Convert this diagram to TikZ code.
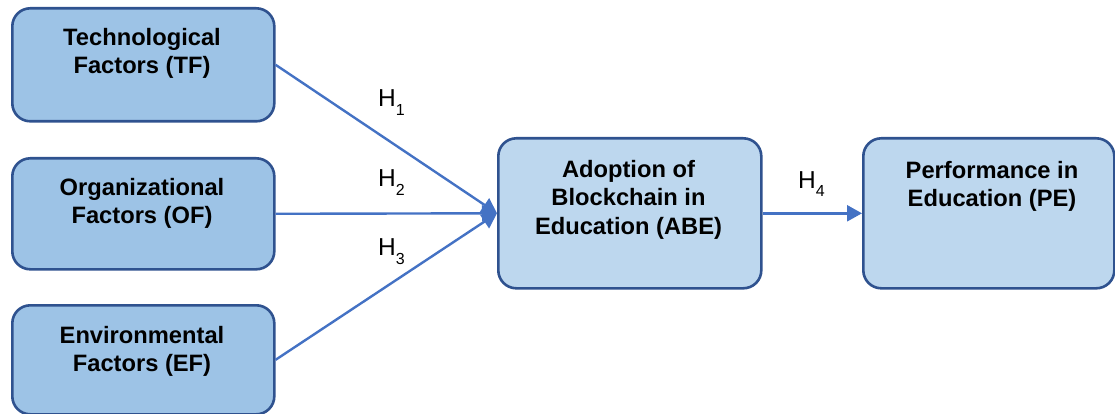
\documentclass[tikz,border=0pt]{standalone}
\usepackage{fontspec}
\setmainfont{Liberation Sans}
\usetikzlibrary{arrows.meta}
\definecolor{boxA}{HTML}{9DC3E6}
\definecolor{boxB}{HTML}{BDD7EE}
\definecolor{edgecol}{HTML}{2F528F}
\definecolor{arrcol}{HTML}{4472C4}
\newcommand{\hsub}[1]{\raisebox{-9pt}{\fontsize{16}{16}\selectfont #1}}
\begin{document}
\begin{tikzpicture}[x=1pt,y=-1pt,
  box/.style={draw=edgecol, line width=2.6pt, rounded corners=18pt, inner sep=0pt, anchor=north west},
  leftbox/.style={box, fill=boxA, minimum width=262pt},
  rightbox/.style={box, fill=boxB, minimum height=150pt},
  boxtext/.style={font=\fontsize{23.7}{28.5}\selectfont\bfseries, align=center, inner sep=0pt, anchor=north},
  hlab/.style={font=\fontsize{24.5}{24.5}\selectfont, inner sep=0pt, anchor=base west},
  link/.style={draw=arrcol, line width=2.4pt, -{Triangle[length=15pt,width=16pt]}}
]
\useasboundingbox (0,0) rectangle (1115,414);

\node[leftbox, minimum height=113pt] (TF) at (11,7) {};
\node[leftbox, minimum height=111pt] (OF) at (11,157) {};
\node[leftbox, minimum height=109pt] (EF) at (11,304) {};
\node[rightbox, minimum width=263pt] (ABE) at (497,137) {};
\node[rightbox, minimum width=251pt] (PE) at (862,137) {};

\node[boxtext] (tTF) at (142,28) {Technological\\Factors (TF)};
\node[boxtext] (tOF) at (142,178) {Organizational\\Factors (OF)};
\node[boxtext] (tEF) at (142,326) {Environmental\\Factors (EF)};
\node[boxtext] (tABE) at (628.5,160) {Adoption of\\Blockchain in\\Education (ABE)};
\node[boxtext] (tPE) at (992,161) {Performance in\\Education (PE)};

\draw[link] (TF.east) -- (ABE.west);
\draw[link] (OF.east) -- (ABE.west);
\draw[link] (EF.east) -- (ABE.west);
\draw[link] (ABE.east) -- (PE.west);

\node[hlab] (h1) at (378,107) {H\hsub{1}};
\node[hlab] (h2) at (378,186) {H\hsub{2}};
\node[hlab] (h3) at (378,255) {H\hsub{3}};
\node[hlab] (h4) at (798,188) {H\hsub{4}};
\end{tikzpicture}
\end{document}
